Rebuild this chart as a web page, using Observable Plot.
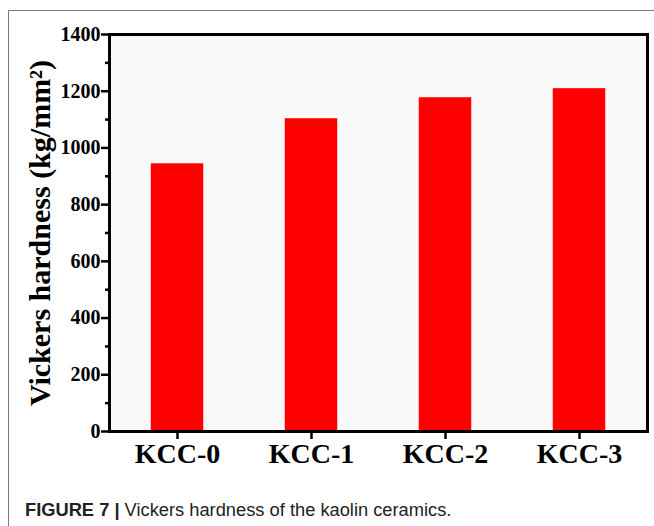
<!DOCTYPE html>
<html>
<head>
<meta charset="utf-8">
<script src="https://cdn.jsdelivr.net/npm/d3@7"></script>
<script src="https://cdn.jsdelivr.net/npm/@observablehq/plot@0.6"></script>
<style>
  html, body { margin: 0; padding: 0; background: #fff; }
  #wrap { position: relative; width: 654px; height: 526px; overflow: hidden; }
  #border { position: absolute; left: 8px; top: 10px; width: 660px; height: 530px;
            border-top: 1.5px solid #7a7a7a; border-left: 1.5px solid #7a7a7a; }
  #chart { position: absolute; left: 0; top: 0; }
  #caption { position: absolute; left: 25px; top: 499px; font-family: "Liberation Sans", Arial, sans-serif;
             font-size: 18.3px; color: #222; white-space: nowrap; }
  #caption b { font-weight: bold; }
</style>
</head>
<body>
<div id="wrap">
  <div id="border"></div>
  <div id="chart"></div>
  <div id="caption"><b>FIGURE 7 |</b> Vickers hardness of the kaolin ceramics.</div>
</div>
<script>
const categories = ["KCC-0", "KCC-1", "KCC-2", "KCC-3"];
const hardness = [944, 1103, 1177, 1209];
const majorTicks = [0, 200, 400, 600, 800, 1000, 1200, 1400];
const minorTicks = [100, 300, 500, 700, 900, 1100, 1300];
const yLabel = "Vickers hardness (kg/mm²)";

const data = categories.map((c, i) => ({category: c, value: hardness[i]}));
const serif = "'Liberation Serif', 'Times New Roman', serif";

const chart = Plot.plot({
  width: 654,
  height: 475,
  marginTop: 34,
  marginLeft: 109,
  marginRight: 7,
  marginBottom: 44,
  style: {fontFamily: serif, background: "transparent", overflow: "visible", color: "#000"},
  x: {domain: categories, padding: 0, label: null},
  y: {domain: [0, 1400], label: null},
  marks: [
    Plot.frame({fill: "#f9f9f9", stroke: null}),
    Plot.barY(data, {x: "category", y: "value", fill: "#ff0000", insetLeft: 40.75, insetRight: 40.75}),
    Plot.axisY(minorTicks, {tickSize: 4, strokeWidth: 2.5, tickFormat: () => "", label: null}),
    Plot.axisY(majorTicks, {tickSize: 8, tickPadding: 1, strokeWidth: 2.5, fontSize: 20, fontWeight: "bold", fontFamily: serif, tickFormat: d => String(d), label: null}),
    Plot.axisX({tickSize: 8, tickPadding: 4, strokeWidth: 2.5, fontSize: 28, fontWeight: "bold", fontFamily: serif, label: null}),
    Plot.frame({stroke: "#000", strokeWidth: 3}),
    Plot.text([yLabel], {frameAnchor: "left", textAnchor: "middle", dx: -69, rotate: -90, fontSize: 30, fontWeight: "bold", fontFamily: serif, fill: "#000"})
  ]
});
document.getElementById("chart").appendChild(chart);
</script>
</body>
</html>
